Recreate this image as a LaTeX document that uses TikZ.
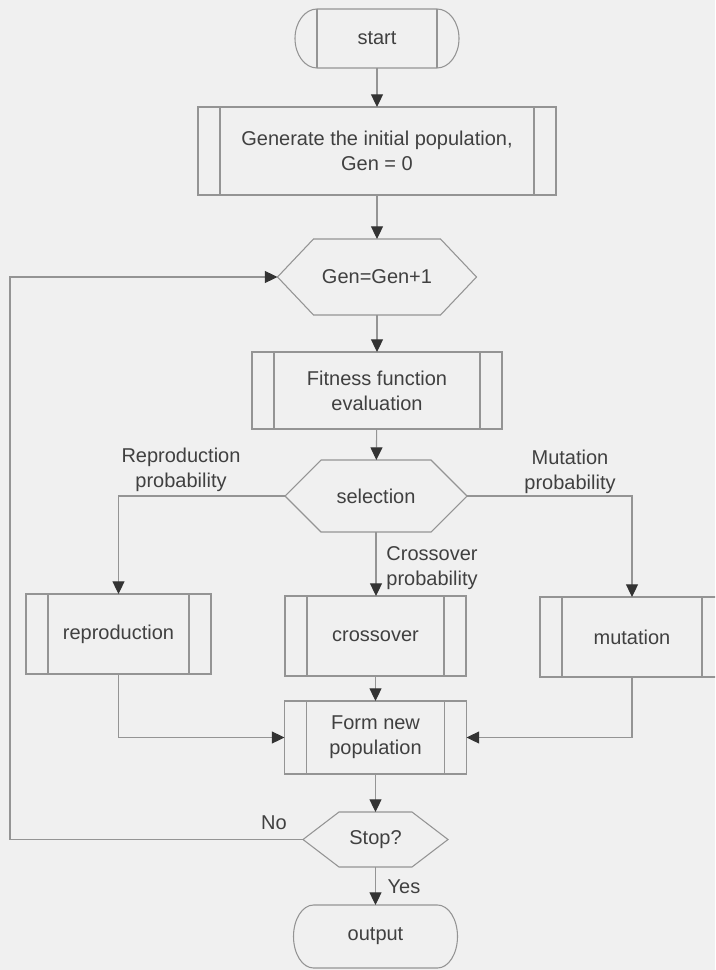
\documentclass[tikz,border=0pt]{standalone}
\usepackage{fontspec}
\setmainfont{Liberation Sans}
\usetikzlibrary{arrows.meta, calc}

\colorlet{linegray}{black!42}
\colorlet{tipgray}{black!80}
\tikzset{
  flowline/.style={draw=linegray, line width=0.8pt},
  arr/.style={flowline, -{Triangle[length=9.5pt, width=9pt, color=tipgray]}},
  procbox/.style={draw=linegray, line width=0.8pt, align=center, outer sep=0pt,
    path picture={
      \draw[linegray, line width=0.8pt]
        ([xshift=16.5pt]path picture bounding box.north west) -- ([xshift=16.5pt]path picture bounding box.south west)
        ([xshift=-16.5pt]path picture bounding box.north east) -- ([xshift=-16.5pt]path picture bounding box.south east);
    }},
  hexbox/.style={align=center, outer sep=0pt},
  termbox/.style={outer sep=0pt},
  problabel/.style={align=center},
}

\begin{document}
\begin{tikzpicture}[x=0.75pt, y=-0.75pt, font=\fontsize{15}{18.75}\selectfont, text=black!75]
    \useasboundingbox (0,0) rectangle (715,970);
    \clip (0,0) rectangle (715,970);
    \fill[black!6] (0,0) rectangle (715,970);

    % main column
    \node[termbox, minimum width=123pt, minimum height=44.25pt] (start) at (377,38.5) {start};
    \node[procbox, minimum width=268.5pt, minimum height=66pt] (gen) at (377,151) {Generate the initial population,\\Gen = 0};
    \node[hexbox, minimum width=149.25pt, minimum height=57pt] (incr) at (377,277) {Gen=Gen+1};
    \node[procbox, minimum width=187.5pt, minimum height=57.75pt] (fit) at (377,390.5) {Fitness function\\evaluation};
    \node[hexbox, minimum width=136.5pt, minimum height=54pt] (select) at (376,496) {selection};

    % operators
    \node[procbox, minimum width=138.75pt, minimum height=60pt] (repro) at (118.5,634) {reproduction};
    \node[procbox, minimum width=135.75pt, minimum height=60pt] (cross) at (375.5,636) {crossover};
    \node[procbox, minimum width=138pt, minimum height=60pt] (mut) at (632,637) {mutation};

    \node[procbox, minimum width=136.5pt, minimum height=54.75pt] (form) at (375.5,737.5) {Form new\\population};
    \node[hexbox, minimum width=108.75pt, minimum height=41.25pt] (stop) at (375.5,839.5) {Stop?};
    \node[termbox, minimum width=123pt, minimum height=47.25pt] (output) at (375.5,936.5) {output};

    % outlines of terminals and decisions
    \foreach \n/\a/\r in {start/22/22.125pt, output/20/23.625pt}
      \draw[flowline] ($(\n.north west)+(\a,0)$) -- ($(\n.north east)+(-\a,0)$)
        arc[start angle=90, end angle=-90, x radius=\a*0.75pt, y radius=\r]
        -- ($(\n.south west)+(\a,0)$)
        arc[start angle=270, end angle=90, x radius=\a*0.75pt, y radius=\r] -- cycle;
    \draw[flowline] ($(start.north west)+(22,0)$) -- ($(start.south west)+(22,0)$)
                    ($(start.north east)+(-22,0)$) -- ($(start.south east)+(-22,0)$);
    \foreach \n in {incr, select, stop}
      \draw[flowline] (\n.west) -- ($(\n.north west)+(36,0)$) -- ($(\n.north east)+(-36,0)$)
        -- (\n.east) -- ($(\n.south east)+(-36,0)$) -- ($(\n.south west)+(36,0)$) -- cycle;

    % connectors
    \draw[arr] (start) -- (gen);
    \draw[arr] (gen) -- (incr);
    \draw[arr] (incr) -- (fit);
    \draw[arr] (fit) -- (select);
    \draw[arr] (select.west) -| (repro.north);
    \draw[arr] (select.east) -| (mut.north);
    \draw[arr] (select.south) -- (select.south |- cross.north);
    \draw[arr] (cross) -- (form);
    \draw[arr] (repro.south) |- (form.west);
    \draw[arr] (mut.south) |- (form.east);
    \draw[arr] (form) -- (stop);
    \draw[arr] (stop) -- (output);
    \coordinate (loop) at (10,839.5);
    \draw[arr] (stop.west) -- (loop) |- (incr.west);

    % labels
    \node[problabel] (lrepro) at (181,469.5) {Reproduction\\probability};
    \node[problabel] (lmut) at (570,471.5) {Mutation\\probability};
    \node[problabel] (lcross) at (432,568) {Crossover\\probability};
    \node (lno) at (274,823) {No};
    \node (lyes) at (404,887) {Yes};
\end{tikzpicture}
\end{document}
